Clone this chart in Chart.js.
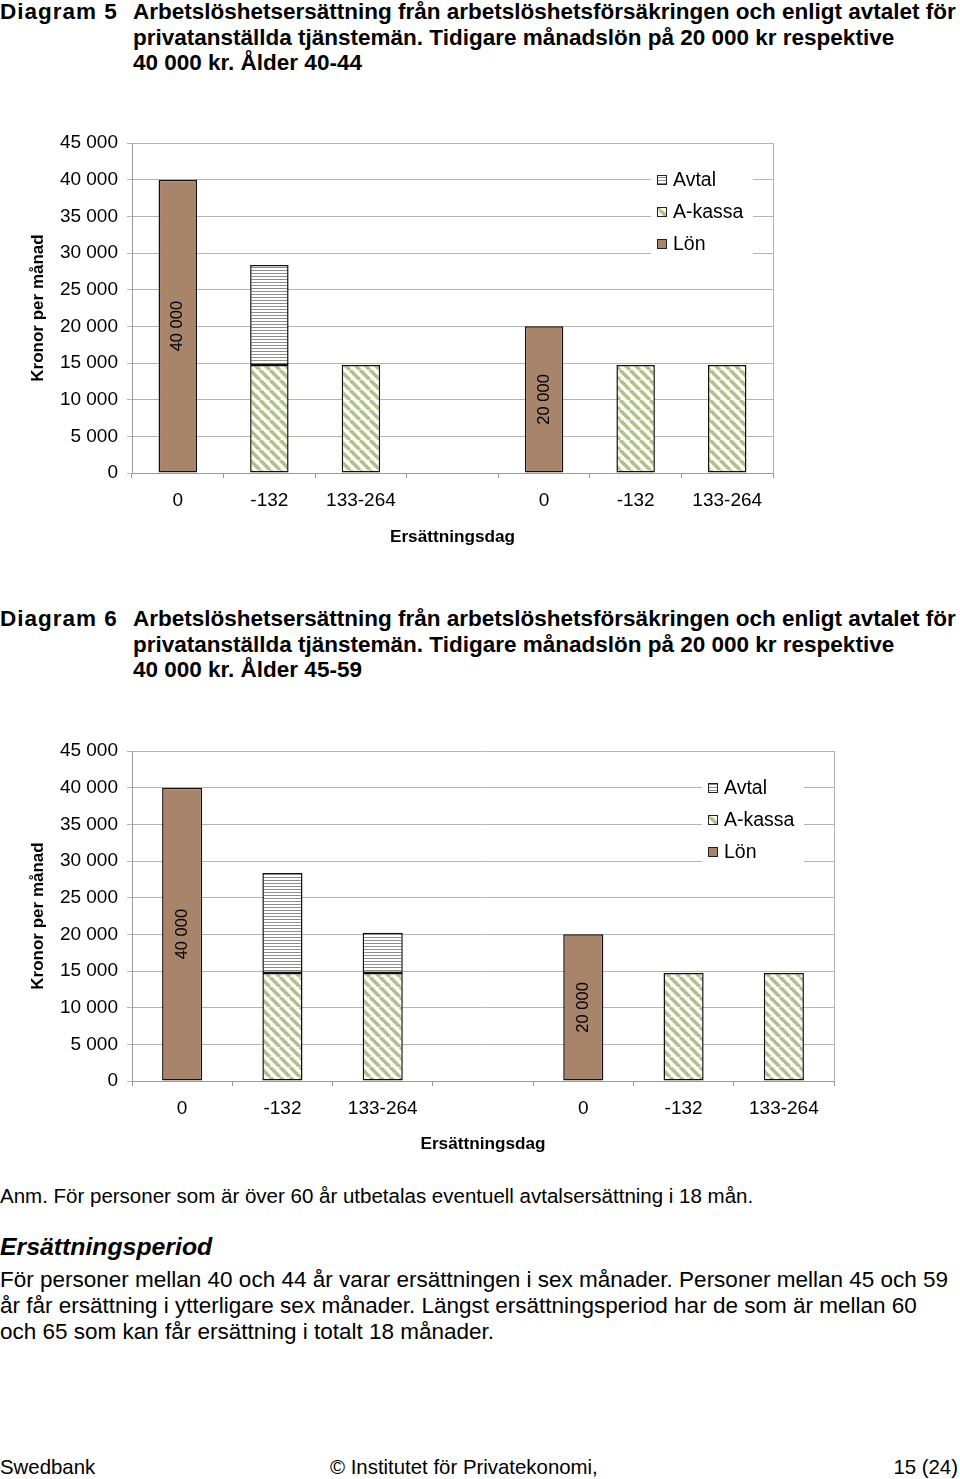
<!DOCTYPE html>
<html lang="sv">
<head>
<meta charset="UTF-8" />
<title>Diagram 5 och 6 - Arbetslöshetsersättning</title>
<script src="https://cdn.jsdelivr.net/npm/chart.js"></script>
<style>
  html, body { margin: 0; padding: 0; background: #fff; }
  body {
    width: 960px;
    height: 1479px;
    position: relative;
    overflow: hidden;
    font-family: "Liberation Sans", Arial, sans-serif;
    color: #000;
  }
  .head { position: absolute; left: 0; width: 960px; font-weight: bold; font-size: 22.5px; line-height: 25.5px; white-space: nowrap; }
  .head .num { position: absolute; left: 0; top: 0; letter-spacing: 1px; }
  .head .txt { position: absolute; left: 133px; top: 0; }
  .box { position: absolute; left: 0; width: 960px; height: 440px; }
  .line { position: absolute; left: 0; white-space: nowrap; }
  #anm { top: 1184px; font-size: 20.5px; line-height: 24px; }
  #period { top: 1233px; font-size: 24.8px; line-height: 28px; font-weight: bold; font-style: italic; }
  #para { top: 1267px; font-size: 22.5px; line-height: 26px; }
  #foot { top: 1455px; width: 960px; font-size: 20.4px; line-height: 24px; }
  #foot span { position: absolute; top: 0; }
</style>
</head>
<body>
<div class="head" style="top:-1px">
  <div class="num">Diagram 5</div>
  <div class="txt">Arbetslöshetsersättning från arbetslöshetsförsäkringen och enligt avtalet för<br>privatanställda tjänstemän. Tidigare månadslön på 20 000 kr respektive<br>40 000 kr. Ålder 40-44</div>
</div>
<div class="box" style="top:120px"><canvas id="chart5"></canvas></div>

<div class="head" style="top:606px">
  <div class="num">Diagram 6</div>
  <div class="txt">Arbetslöshetsersättning från arbetslöshetsförsäkringen och enligt avtalet för<br>privatanställda tjänstemän. Tidigare månadslön på 20 000 kr respektive<br>40 000 kr. Ålder 45-59</div>
</div>
<div class="box" style="top:727px"><canvas id="chart6"></canvas></div>

<div class="line" id="anm">Anm. För personer som är över 60 år utbetalas eventuell avtalsersättning i 18 mån.</div>
<div class="line" id="period">Ersättningsperiod</div>
<div class="line" id="para">För personer mellan 40 och 44 år varar ersättningen i sex månader. Personer mellan 45 och 59<br>år får ersättning i ytterligare sex månader. Längst ersättningsperiod har de som är mellan 60<br>och 65 som kan får ersättning i totalt 18 månader.</div>
<div class="line" id="foot">
  <span style="left:0">Swedbank</span>
  <span style="left:330px">© Institutet för Privatekonomi,</span>
  <span style="right:2px">15 (24)</span>
</div>

<script>
// kategorier (ersättningsdag) – först 40 000 kr, sedan 20 000 kr i lön
const categories = ["0", "-132", "133-264", "", "0", "-132", "133-264"];
const yTicks = [0, 5000, 10000, 15000, 20000, 25000, 30000, 35000, 40000, 45000];

// Diagram 5, ålder 40-44
const lon40 = [40000, null, null, null, 20000, null, null];
const akassa40 = [null, 14740, 14740, null, null, 14740, 14740];
const avtal40 = [null, 13620, null, null, null, null, null];

// Diagram 6, ålder 45-59
const lon45 = [40000, null, null, null, 20000, null, null];
const akassa45 = [null, 14740, 14740, null, null, 14740, 14740];
const avtal45 = [null, 13620, 5460, null, null, null, null];

const FONT = "'Liberation Sans', Arial, sans-serif";

function fmt(v) {
  return String(v).replace(/\B(?=(\d{3})+(?!\d))/g, " ");
}

function stripePattern() {
  const s = 10;
  const c = document.createElement("canvas");
  c.width = s;
  c.height = s;
  const g = c.getContext("2d");
  g.fillStyle = "#fff";
  g.fillRect(0, 0, s, s);
  g.strokeStyle = "#b2c189";
  g.lineWidth = 3.6;
  g.beginPath();
  for (const o of [-s, 0, s]) {
    g.moveTo(o, 0);
    g.lineTo(o + s, s);
  }
  g.stroke();
  return g.createPattern(c, "repeat");
}

function linePattern() {
  const c = document.createElement("canvas");
  c.width = 4;
  c.height = 3;
  const g = c.getContext("2d");
  g.fillStyle = "#fff";
  g.fillRect(0, 0, 4, 3);
  g.fillStyle = "#8e8e8e";
  g.fillRect(0, 0, 4, 1);
  return g.createPattern(c, "repeat");
}

// ram runt ritytan (höger kant)
const frame = {
  id: "frame",
  beforeDatasetsDraw(chart) {
    const { ctx, chartArea: a } = chart;
    ctx.save();
    ctx.strokeStyle = "#b4b4b4";
    ctx.lineWidth = 1;
    ctx.beginPath();
    ctx.moveTo(Math.round(a.right) + 0.5, a.top);
    ctx.lineTo(Math.round(a.right) + 0.5, a.bottom);
    ctx.stroke();
    ctx.restore();
  },
};

// förklaring inne i diagrammet, vit bakgrund över stödlinjerna
const legendBox = {
  id: "legendBox",
  beforeDatasetsDraw(chart, args, opts) {
    const { ctx, chartArea: a } = chart;
    const items = chart.data.datasets.slice().reverse();
    ctx.save();
    ctx.fillStyle = "#fff";
    ctx.fillRect(opts.left, a.top + 20, opts.width, 98);
    ctx.font = "19.5px " + FONT;
    ctx.textBaseline = "middle";
    items.forEach((ds, i) => {
      const cy = Math.round(a.top + 37 + i * 32);
      ctx.fillStyle = ds.backgroundColor;
      ctx.fillRect(opts.left + 6, cy - 5, 10, 10);
      ctx.strokeStyle = "#222";
      ctx.lineWidth = 1;
      ctx.strokeRect(opts.left + 6.5, cy - 4.5, 9, 9);
      ctx.fillStyle = "#000";
      ctx.fillText(ds.label, opts.left + 22, cy + 1);
    });
    ctx.restore();
  },
};

// värde i stapeln, roterat
const barValues = {
  id: "barValues",
  afterDatasetsDraw(chart) {
    const ctx = chart.ctx;
    chart.data.datasets.forEach((ds, di) => {
      if (!ds.showValue) return;
      chart.getDatasetMeta(di).data.forEach((bar, i) => {
        const v = ds.data[i];
        if (v == null) return;
        const p = bar.getProps(["x", "y", "base"], true);
        ctx.save();
        ctx.translate(p.x, (p.y + p.base) / 2);
        ctx.rotate(-Math.PI / 2);
        ctx.font = "16.5px " + FONT;
        ctx.fillStyle = "#000";
        ctx.textAlign = "center";
        ctx.textBaseline = "middle";
        ctx.fillText(fmt(v), 0, 0);
        ctx.restore();
      });
    });
  },
};

function makeChart(id, lon, akassa, avtal, o) {
  const stripes = stripePattern();
  const lines = linePattern();
  const bar = { borderColor: "#111", borderWidth: 1.5, borderSkipped: false, barPercentage: o.barPct, categoryPercentage: 1 };
  return new Chart(document.getElementById(id), {
    type: "bar",
    data: {
      labels: categories,
      datasets: [
        Object.assign({ label: "Lön", data: lon, backgroundColor: "#a8856a", showValue: true }, bar),
        Object.assign({ label: "A-kassa", data: akassa, backgroundColor: stripes }, bar),
        Object.assign({ label: "Avtal", data: avtal, backgroundColor: lines }, bar),
      ],
    },
    options: {
      responsive: true,
      maintainAspectRatio: false,
      animation: false,
      devicePixelRatio: 1,
      layout: { padding: { top: o.top, right: o.right, bottom: 0, left: 0 } },
      plugins: {
        legend: { display: false },
        tooltip: { enabled: false },
        legendBox: { left: o.legendLeft, width: 102 },
      },
      scales: {
        x: {
          stacked: true,
          afterFit(s) { s.height = o.xh; },
          ticks: { font: { size: 19, family: FONT }, color: "#000", padding: 11, maxRotation: 0, autoSkip: false },
          grid: { drawOnChartArea: false, drawTicks: true, tickLength: 5, color: "#999", offset: true },
          border: { color: "#999" },
          title: { display: true, text: "Ersättningsdag", color: "#000", font: { size: 17.2, weight: "bold", family: FONT }, padding: { top: 0, bottom: 12 } },
        },
        y: {
          stacked: true,
          min: 0,
          max: 45000,
          afterFit(s) { s.width = 132; },
          afterBuildTicks(s) { s.ticks = yTicks.map((v) => ({ value: v })); },
          ticks: { callback: (v) => fmt(v), font: { size: 19, family: FONT }, color: "#000", padding: 9 },
          grid: { color: "#b4b4b4", tickLength: 5 },
          border: { color: "#999" },
          title: { display: true, text: "Kronor per månad", color: "#000", font: { size: 17, weight: "bold", family: FONT }, padding: { top: 28, bottom: 0 } },
        },
      },
    },
    plugins: [frame, legendBox, barValues],
  });
}

makeChart("chart5", lon40, akassa40, avtal40, { top: 23, right: 187, xh: 87, barPct: 0.42, legendLeft: 651 });
makeChart("chart6", lon45, akassa45, avtal45, { top: 24, right: 126, xh: 86, barPct: 0.4, legendLeft: 702 });
</script>
</body>
</html>
